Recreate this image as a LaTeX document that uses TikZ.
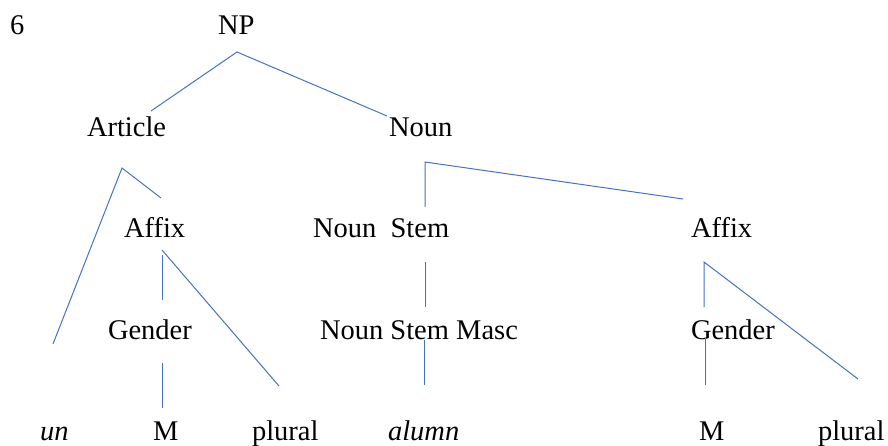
\documentclass[tikz,border=0pt]{standalone}
\usepackage{fontspec}
\setmainfont{Liberation Serif}
\definecolor{lineblue}{HTML}{4472C4}
\begin{document}
\begin{tikzpicture}[x=1pt,y=-1pt,
  lbl/.style={anchor=base west,inner sep=0pt,outer sep=0pt,font=\fontsize{28.5}{34}\selectfont},
  branch/.style={draw=lineblue,line width=1pt}]
\useasboundingbox (0,0) rectangle (888,446);
% labels
\node[lbl] (num) at (10,35) {6};
\node[lbl] (np) at (218,35) {NP};
\node[lbl] (art) at (87,137) {Article};
\node[lbl] (noun) at (389,137) {Noun};
\node[lbl] (affixL) at (124,237) {Affix};
\node[lbl] (nstem) at (313,237) {Noun\ \ Stem};
\node[lbl] (affixR) at (691,238) {Affix};
\node[lbl] (genL) at (108,339) {Gender};
\node[lbl] (nsm) at (320,339) {Noun Stem Masc};
\node[lbl] (genR) at (691,339) {Gender};
\node[lbl] (un) at (40,440) {\itshape un};
\node[lbl] (mL) at (153,440) {M};
\node[lbl] (plL) at (252,440) {plural};
\node[lbl] (alumn) at (388,440) {\itshape alumn};
\node[lbl] (mR) at (699,440) {M};
\node[lbl] (plR) at (818,440) {plural};
% branch points
\coordinate (npTop) at (237,52);
\coordinate (npL) at (151,111);
\coordinate (npR) at (387,116);
\coordinate (artTop) at (122,168);
\coordinate (artL) at (53,344);
\coordinate (artR) at (161,198);
\coordinate (nounTop) at (425,162);
\coordinate (nounL) at (425,207);
\coordinate (nounR) at (683,199);
\coordinate (afLTop) at (162,250);
\coordinate (afLv1) at (162,255);
\coordinate (afLv2) at (162,300);
\coordinate (afLR) at (279,386);
\coordinate (genLv1) at (162,363);
\coordinate (genLv2) at (162,408);
\coordinate (nstv1) at (425,262);
\coordinate (nstv2) at (425,307);
\coordinate (nsmv1) at (424,340);
\coordinate (nsmv2) at (424,385);
\coordinate (afRTop) at (704,262);
\coordinate (afRv2) at (704,307);
\coordinate (afRR) at (858,379);
\coordinate (genRv1) at (705,338);
\coordinate (genRv2) at (705,385);
% branches
\draw[branch] (npL) -- (npTop) -- (npR);
\draw[branch] (artL) -- (artTop) -- (artR);
\draw[branch] (nounL) -- (nounTop) -- (nounR);
\draw[branch] (afLv1) -- (afLv2);
\draw[branch] (afLTop) -- (afLR);
\draw[branch] (genLv1) -- (genLv2);
\draw[branch] (nstv1) -- (nstv2);
\draw[branch] (nsmv1) -- (nsmv2);
\draw[branch] (afRv2) -- (afRTop) -- (afRR);
\draw[branch] (genRv1) -- (genRv2);
\end{tikzpicture}
\end{document}
